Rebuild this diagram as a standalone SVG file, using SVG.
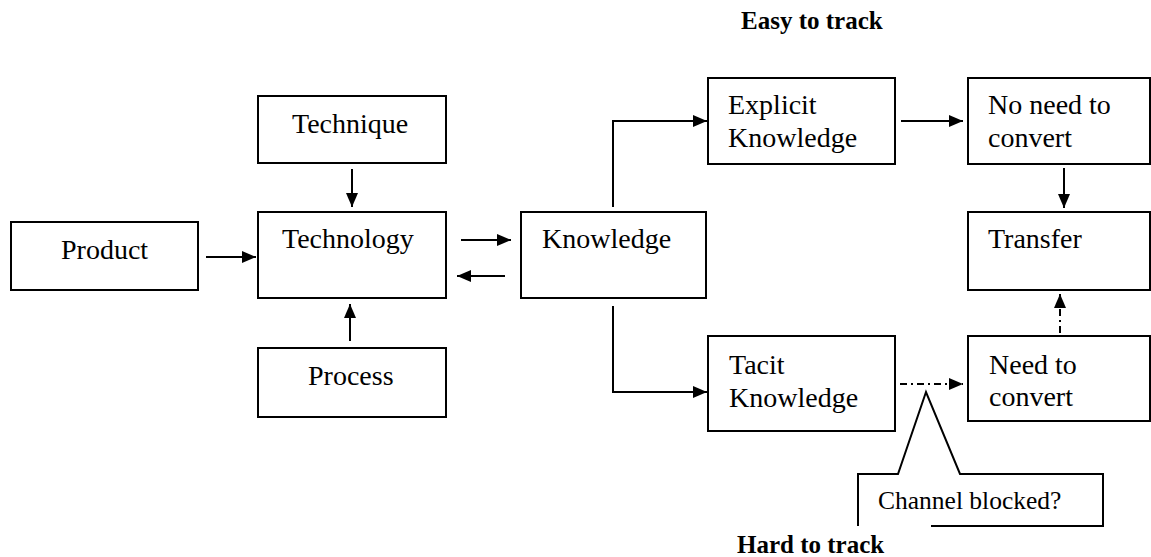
<svg xmlns="http://www.w3.org/2000/svg" width="1151" height="557" viewBox="0 0 1151 557">
  <style>
    .box { fill: #fff; stroke: #000; stroke-width: 2; }
    .lbl { font-family: "Liberation Serif", "Times New Roman", serif; font-size: 28px; fill: #000; }
    .note { font-family: "Liberation Serif", "Times New Roman", serif; font-size: 25.5px; fill: #000; }
    .head { font-family: "Liberation Serif", "Times New Roman", serif; font-size: 25px; font-weight: bold; fill: #000; }
    .link { fill: none; stroke: #000; stroke-width: 2; marker-end: url(#arrow); }
    .dashdot { stroke-dasharray: 7 4 2 4; }
  </style>
  <defs>
    <marker id="arrow" viewBox="0 0 14 12" refX="14" refY="6" markerWidth="14" markerHeight="12" markerUnits="userSpaceOnUse" orient="auto">
      <path d="M0,0 L14,6 L0,12 Z" fill="#000"/>
    </marker>
  </defs>

  <rect width="1151" height="557" fill="#fff"/>

  <text class="head" x="741" y="29">Easy to track</text>

  <!-- connectors -->
  <g id="connectors">
    <line class="link" x1="206" y1="257" x2="256" y2="257"/>
    <line class="link" x1="352" y1="169" x2="352" y2="207"/>
    <line class="link" x1="350" y1="341" x2="350" y2="304"/>
    <line class="link" x1="461" y1="240" x2="511" y2="240"/>
    <line class="link" x1="505" y1="276" x2="457" y2="276"/>
    <polyline class="link" points="613,207 613,121 707,121"/>
    <polyline class="link" points="613,306 613,392 707,392"/>
    <line class="link" x1="901" y1="121" x2="963" y2="121"/>
    <line class="link" x1="1064" y1="168" x2="1064" y2="208"/>
    <line class="link dashdot" x1="900" y1="384" x2="963" y2="384"/>
    <line class="link dashdot" x1="1060" y1="333" x2="1060" y2="294"/>
  </g>

  <g id="product">
    <rect class="box" x="11" y="222" width="187" height="68"/>
    <text class="lbl" x="61" y="259">Product</text>
  </g>
  <g id="technique">
    <rect class="box" x="258" y="96" width="188" height="67"/>
    <text class="lbl" x="292" y="133">Technique</text>
  </g>
  <g id="technology">
    <rect class="box" x="258" y="212" width="188" height="86"/>
    <text class="lbl" x="282" y="248">Technology</text>
  </g>
  <g id="process">
    <rect class="box" x="258" y="348" width="188" height="69"/>
    <text class="lbl" x="308" y="385">Process</text>
  </g>
  <g id="knowledge">
    <rect class="box" x="521" y="212" width="185" height="86"/>
    <text class="lbl" x="542" y="248">Knowledge</text>
  </g>
  <g id="explicit">
    <rect class="box" x="708" y="78" width="187" height="86"/>
    <text class="lbl" x="728" y="114">Explicit</text>
    <text class="lbl" x="728" y="147">Knowledge</text>
  </g>
  <g id="no-need">
    <rect class="box" x="968" y="78" width="182" height="86"/>
    <text class="lbl" x="988" y="114">No need to</text>
    <text class="lbl" x="988" y="147">convert</text>
  </g>
  <g id="transfer">
    <rect class="box" x="968" y="212" width="182" height="78"/>
    <text class="lbl" x="988" y="248">Transfer</text>
  </g>
  <g id="tacit">
    <rect class="box" x="708" y="336" width="187" height="95"/>
    <text class="lbl" x="729" y="374">Tacit</text>
    <text class="lbl" x="729" y="407">Knowledge</text>
  </g>
  <g id="need">
    <rect class="box" x="968" y="336" width="182" height="85"/>
    <text class="lbl" x="989" y="374">Need to</text>
    <text class="lbl" x="989" y="406">convert</text>
  </g>

  <!-- callout pointing at the blocked channel; its lower-left edge sits under the caption frame -->
  <g id="channel-blocked">
    <polygon points="858,474 898,474 926,392 960,474 1103,474 1103,526 858,526" fill="#fff" stroke="none"/>
    <polyline points="858,526 858,474 898,474 926,392 960,474 1103,474 1103,526 931,526" fill="none" stroke="#000" stroke-width="2"/>
    <text class="note" x="878" y="509">Channel blocked?</text>
  </g>

  <text class="head" x="737" y="553">Hard to track</text>
</svg>
